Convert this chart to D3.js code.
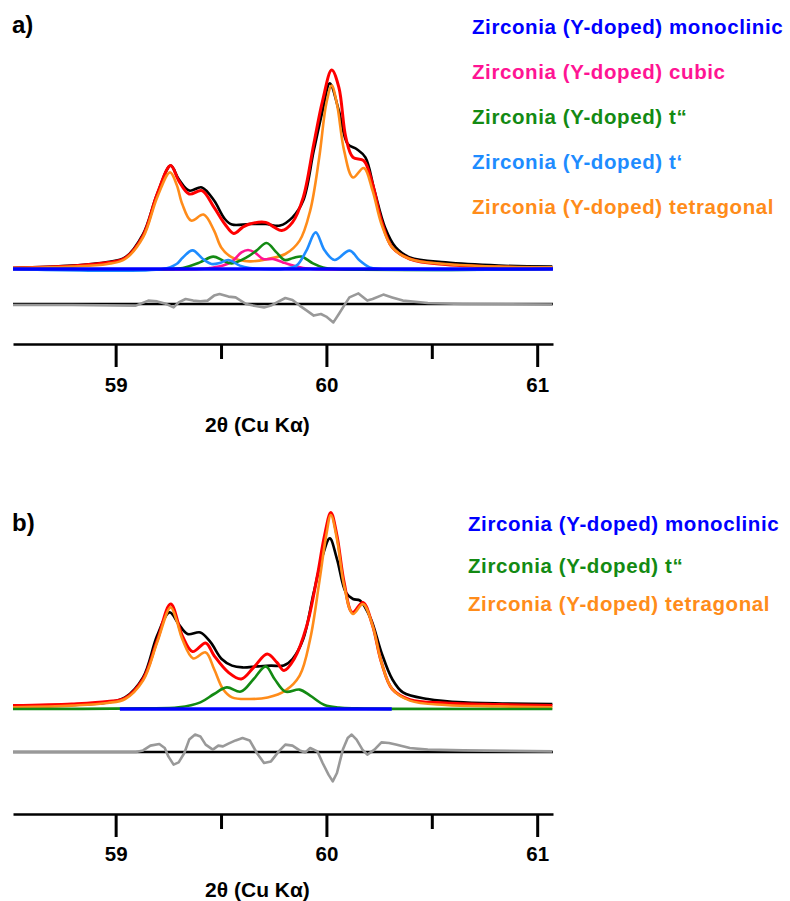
<!DOCTYPE html>
<html><head><meta charset="utf-8">
<script src="https://cdn.jsdelivr.net/npm/d3@7"></script>
<style>
body{margin:0;background:#fff}
svg{display:block;font-family:"Liberation Sans",Arial,Helvetica,sans-serif}
</style>
</head><body>
<svg id="chart" width="790" height="901"></svg>
<script>
// ---------------- DATA (2θ in degrees, intensity in arbitrary units) ----------------
const tickValues = [59, 59.5, 60, 60.5, 61];
const tickLabels = ["59", "", "60", "", "61"];
const axisTitle = "2θ (Cu Kα)";
const xDomain = [58.513, 61.075];

// Panel a
const aObsX = [58.513,58.792,58.961,59.045,59.13,59.197,59.261,59.299,59.349,59.409,59.467,59.518,59.552,59.636,59.712,59.78,59.839,59.89,59.94,59.982,60.016,60.059,60.101,60.143,60.185,60.228,60.278,60.329,60.396,60.565,60.818,61.072];
const aObsY = [0.5,1.7,3.5,5.8,17.5,37.5,51.7,45,39.2,40.8,34.2,25,22.2,22.5,22.5,21.7,25.8,34.2,59.2,79.2,92.8,79.2,62.5,60,55.8,39.2,20.8,10.8,5.8,3.3,1.7,1.2];
const aCalcX = [58.513,58.792,58.961,59.045,59.13,59.197,59.261,59.299,59.349,59.409,59.467,59.518,59.56,59.602,59.636,59.712,59.754,59.788,59.839,59.89,59.94,59.982,60.025,60.059,60.092,60.126,60.177,60.219,60.261,60.312,60.396,60.565,61.072];
const aCalcY = [0.5,1.5,3.2,5.5,16.7,37.5,51.7,44.2,37.5,39.2,30.8,22.5,17.8,20.8,22.5,23.3,20.8,19.2,23.3,35.8,62.5,84.2,99.5,90.8,65.8,55.8,54.2,42.5,24.2,10.8,5,2.2,0.5];
const aTetX = [58.513,58.792,58.961,59.045,59.13,59.197,59.258,59.29,59.316,59.358,59.417,59.467,59.501,59.552,59.636,59.721,59.805,59.873,59.923,59.966,59.999,60.025,60.05,60.084,60.126,60.177,60.219,60.261,60.312,60.396,60.565,60.818,61.072];
const aTetY = [0.5,1.2,2.5,5,15.8,35.8,48.3,42,32.5,24.2,27.2,19.2,10.8,5.8,3.8,5,7.5,14.2,29.2,55.8,82.5,91.7,82.5,59.2,45.8,50.5,39.2,22.5,10.8,5,2.5,1.2,0.8];
const aTpX = [58.513,59.224,59.289,59.319,59.365,59.414,59.455,59.494,59.534,59.589,59.636,59.708,59.802,59.858,59.905,59.949,59.992,60.039,60.11,60.158,60.205,60.253,61.072];
const aTpY = [0,0,2.5,5.8,9.3,5,2.5,3,4.5,1.7,0.5,0,0.2,1.7,9.2,18.3,9.2,4.5,9.2,4.2,0.8,0,0];
const aTppX = [58.513,59.25,59.319,59.40,59.463,59.51,59.55,59.621,59.668,59.716,59.763,59.802,59.842,59.882,59.936,59.984,60.047,61.072];
const aTppY = [0,0,0.5,3.3,6.2,4.2,2.8,5.8,9.2,13,8.3,4.5,5.5,6.2,2.8,0.8,0,0];
const aCubX = [58.513,59.40,59.447,59.51,59.557,59.597,59.628,59.66,59.7,59.747,59.794,59.842,59.889,59.936,61.072];
const aCubY = [0,0,0.5,1.7,4.2,8.3,9.5,8.3,5,5,3.3,1.7,0.5,0,0];
const aMonoX = [58.513, 61.075];
const aMonoY = [0, 0];
const aResX = [58.513,58.792,59.096,59.155,59.197,59.233,59.275,59.299,59.332,59.368,59.402,59.436,59.467,59.493,59.535,59.569,59.619,59.653,59.704,59.737,59.765,59.805,59.839,59.873,59.907,59.94,59.974,59.999,60.033,60.059,60.084,60.109,60.152,60.194,60.219,60.27,60.312,60.363,60.481,60.65,61.072];
const aResY = [-0.5,-0.5,-0.8,1.7,1.3,0.3,-1.7,0.8,2.5,1.7,1.3,1.7,4.2,5,3.7,3.3,0,-0.8,-1.7,-0.8,0.8,3,2,-0.8,-3.3,-5.8,-5,-6.3,-9.2,-5,-0.8,3.3,5.3,1.7,2.5,4.7,3.3,1.7,0.5,0,-0.3];

// Panel b
const bObsX = [58.513,58.792,58.961,59.045,59.13,59.197,59.256,59.299,59.341,59.402,59.451,59.503,59.552,59.602,59.67,59.737,59.797,59.839,59.89,59.94,59.982,60.016,60.05,60.092,60.126,60.16,60.211,60.261,60.312,60.363,60.481,60.65,61.072];
const bObsY = [1.3,2,3.3,5.8,15.8,36.7,48.3,42.5,37.5,38.3,33.3,25,21.7,20.8,21.3,21.7,21.7,25,35,58.3,76.7,85.3,75,58.3,55,54.2,45,28.3,15,8.3,5,3.3,2.5];
const bCalcX = [58.513,58.792,58.961,59.045,59.13,59.197,59.261,59.316,59.365,59.427,59.467,59.535,59.596,59.655,59.719,59.765,59.799,59.847,59.907,59.957,59.991,60.021,60.05,60.084,60.123,60.173,60.219,60.261,60.312,60.396,60.565,60.818,61.072];
const bCalcY = [1.7,2.5,3.7,5.5,15,34.2,52.5,36.7,28.7,33,26.7,18.3,15,20.8,27.5,23.3,19.2,25,41.7,66.7,86.7,98.3,86.7,63.3,48.3,53.3,41.7,23.3,10,4.7,3,2.2,1.7];
const bTetX = [58.513,58.792,58.961,59.045,59.13,59.197,59.261,59.29,59.316,59.368,59.427,59.467,59.509,59.552,59.636,59.721,59.805,59.873,59.923,59.966,59.999,60.021,60.05,60.084,60.126,60.173,60.219,60.261,60.312,60.396,60.565,60.818,61.072];
const bTetY = [0.8,1.7,3,5,14.2,33.3,50.8,44,35,25.3,28.3,20,10,5.8,5,5.8,9.2,16.7,35,63.3,86.7,97,85,61.7,47.5,52.5,41.7,23.3,10,4.2,2,1.3,0.8];
const bTppX = [58.513,59.13,59.299,59.402,59.467,59.527,59.594,59.655,59.712,59.754,59.805,59.873,59.923,59.991,60.059,60.143,61.072];
const bTppY = [0,0.3,0.8,3.3,7.5,10.8,8.7,15,21.3,15,8.7,9.7,6.7,2,0.7,0.3,0];
const bMonoX = [59.02, 60.31];
const bMonoY = [0, 0];
const bResX = [58.513,59.096,59.13,59.165,59.207,59.233,59.25,59.275,59.299,59.326,59.349,59.377,59.402,59.427,59.461,59.487,59.509,59.535,59.569,59.602,59.636,59.67,59.704,59.737,59.774,59.805,59.839,59.873,59.9,59.923,59.957,59.982,60.01,60.03,60.05,60.078,60.101,60.12,60.143,60.171,60.194,60.228,60.261,60.297,60.329,60.396,60.481,60.65,61.072];
const bResY = [0,0,0.8,3.2,4,2,-2.2,-6.3,-5.2,-0.5,6.2,8.7,7.8,3.7,1.2,3.2,2.8,4.2,5.8,7,5.8,-0.5,-5.5,-4.7,0.3,3.7,3.2,0.8,-0.2,2,0.3,-5.5,-11.3,-14.7,-10.5,1.2,7,8.7,6.2,1.2,-1.3,1.2,4.8,4.5,3.7,2,1.2,0.8,0.3];

// Legends
const legendA = ["Zirconia (Y-doped) monoclinic","Zirconia (Y-doped) cubic","Zirconia (Y-doped) t\u201c","Zirconia (Y-doped) t\u2018","Zirconia (Y-doped) tetragonal"];
const legendAKeys = ["mono","cub","tpp","tp","tet"];
const legendB = ["Zirconia (Y-doped) monoclinic","Zirconia (Y-doped) t\u201c","Zirconia (Y-doped) tetragonal"];
const legendBKeys = ["mono","tpp","tet"];

// ---------------- STYLE ----------------
const colors = {obs:"#000000", calc:"#ff0000", tet:"#ff8c1a", tp:"#1e8cff", tpp:"#138a13", cub:"#ff1493", mono:"#0000ff", res:"#999999"};
const widths = {obs:2.6, calc:3, tet:2.6, tp:2.6, tpp:2.6, cub:2.6, mono:3.5, res:2.6};

const svg = d3.select("#chart");
const x = d3.scaleLinear().domain(xDomain).range([13, 553]);

function drawPanel(cfg) {
  const y = d3.scaleLinear().domain([0, 100]).range([cfg.base, cfg.base - 200]);
  const yr = d3.scaleLinear().domain([-10, 10]).range([cfg.resZero + 20, cfg.resZero - 20]);
  const g = svg.append("g");
  const smooth = d3.line().x(d => x(d[0])).y(d => y(d[1])).curve(d3.curveCatmullRom.alpha(0.5));
  const resLine = d3.line().x(d => x(d[0])).y(d => yr(d[1])).curve(d3.curveLinear);

  cfg.series.forEach(s => {
    const pts = d3.zip(s.x, s.y);
    g.append("path").attr("d", smooth(pts)).attr("fill", "none")
      .attr("stroke", colors[s.key]).attr("stroke-width", widths[s.key])
      .attr("stroke-linejoin", "round").attr("stroke-linecap", "butt");
  });

  // residual zero line and residual
  g.append("path").attr("d", resLine([[xDomain[0], 0], [xDomain[1], 0]]))
    .attr("stroke", "#000").attr("stroke-width", 2.5).attr("fill", "none");
  g.append("path").attr("d", resLine(d3.zip(cfg.resX, cfg.resY)))
    .attr("stroke", colors.res).attr("stroke-width", widths.res).attr("fill", "none")
    .attr("stroke-linejoin", "round");

  // axis
  const ax = d3.axisBottom(x).tickValues(tickValues).tickSize(23).tickSizeOuter(0)
    .tickFormat((d, i) => tickLabels[i]);
  const axg = g.append("g").attr("transform", `translate(0,${cfg.axisY})`).call(ax);
  axg.select(".domain").attr("stroke", "#000").attr("stroke-width", 2.7);
  axg.selectAll(".tick line").attr("stroke", "#000").attr("stroke-width", 3)
    .attr("y2", (d, i) => tickLabels[i] ? 23 : 15);
  axg.selectAll(".tick text").attr("y", cfg.tickTextY).attr("dy", 0)
    .attr("font-size", 20.5).attr("font-weight", "bold").attr("fill", "#000")
    .attr("font-family", "Liberation Sans, Arial, sans-serif");
  g.append("text").attr("x", 257.5).attr("y", cfg.titleY).attr("text-anchor", "middle")
    .attr("font-size", 21).attr("font-weight", "bold").text(axisTitle);

  // panel label
  g.append("text").attr("x", 12).attr("y", cfg.labelY).attr("font-size", 24)
    .attr("font-weight", "bold").text(cfg.label);

  // legend
  cfg.legend.forEach((t, i) => {
    g.append("text").attr("x", cfg.legX).attr("y", cfg.legY[i])
      .attr("font-size", 20.5).attr("font-weight", "bold").attr("letter-spacing", 0.6)
      .attr("fill", colors[cfg.legKeys[i]]).text(t);
  });
}

drawPanel({
  base: 269, resZero: 304, axisY: 344, tickTextY: 48, titleY: 432, label: "a)", labelY: 33,
  series: [
    {key:"obs", x:aObsX, y:aObsY}, {key:"calc", x:aCalcX, y:aCalcY}, {key:"tet", x:aTetX, y:aTetY},
    {key:"cub", x:aCubX, y:aCubY}, {key:"tpp", x:aTppX, y:aTppY}, {key:"tp", x:aTpX, y:aTpY},
    {key:"mono", x:aMonoX, y:aMonoY}
  ],
  resX: aResX, resY: aResY,
  legend: legendA, legKeys: legendAKeys, legX: 472, legY: [34, 79, 124, 169, 214]
});

drawPanel({
  base: 709, resZero: 752, axisY: 814, tickTextY: 47, titleY: 897, label: "b)", labelY: 531,
  series: [
    {key:"obs", x:bObsX, y:bObsY}, {key:"calc", x:bCalcX, y:bCalcY}, {key:"tet", x:bTetX, y:bTetY},
    {key:"tpp", x:bTppX, y:bTppY}, {key:"mono", x:bMonoX, y:bMonoY}
  ],
  resX: bResX, resY: bResY,
  legend: legendB, legKeys: legendBKeys, legX: 468, legY: [531, 573, 611]
});
</script>
</body></html>
